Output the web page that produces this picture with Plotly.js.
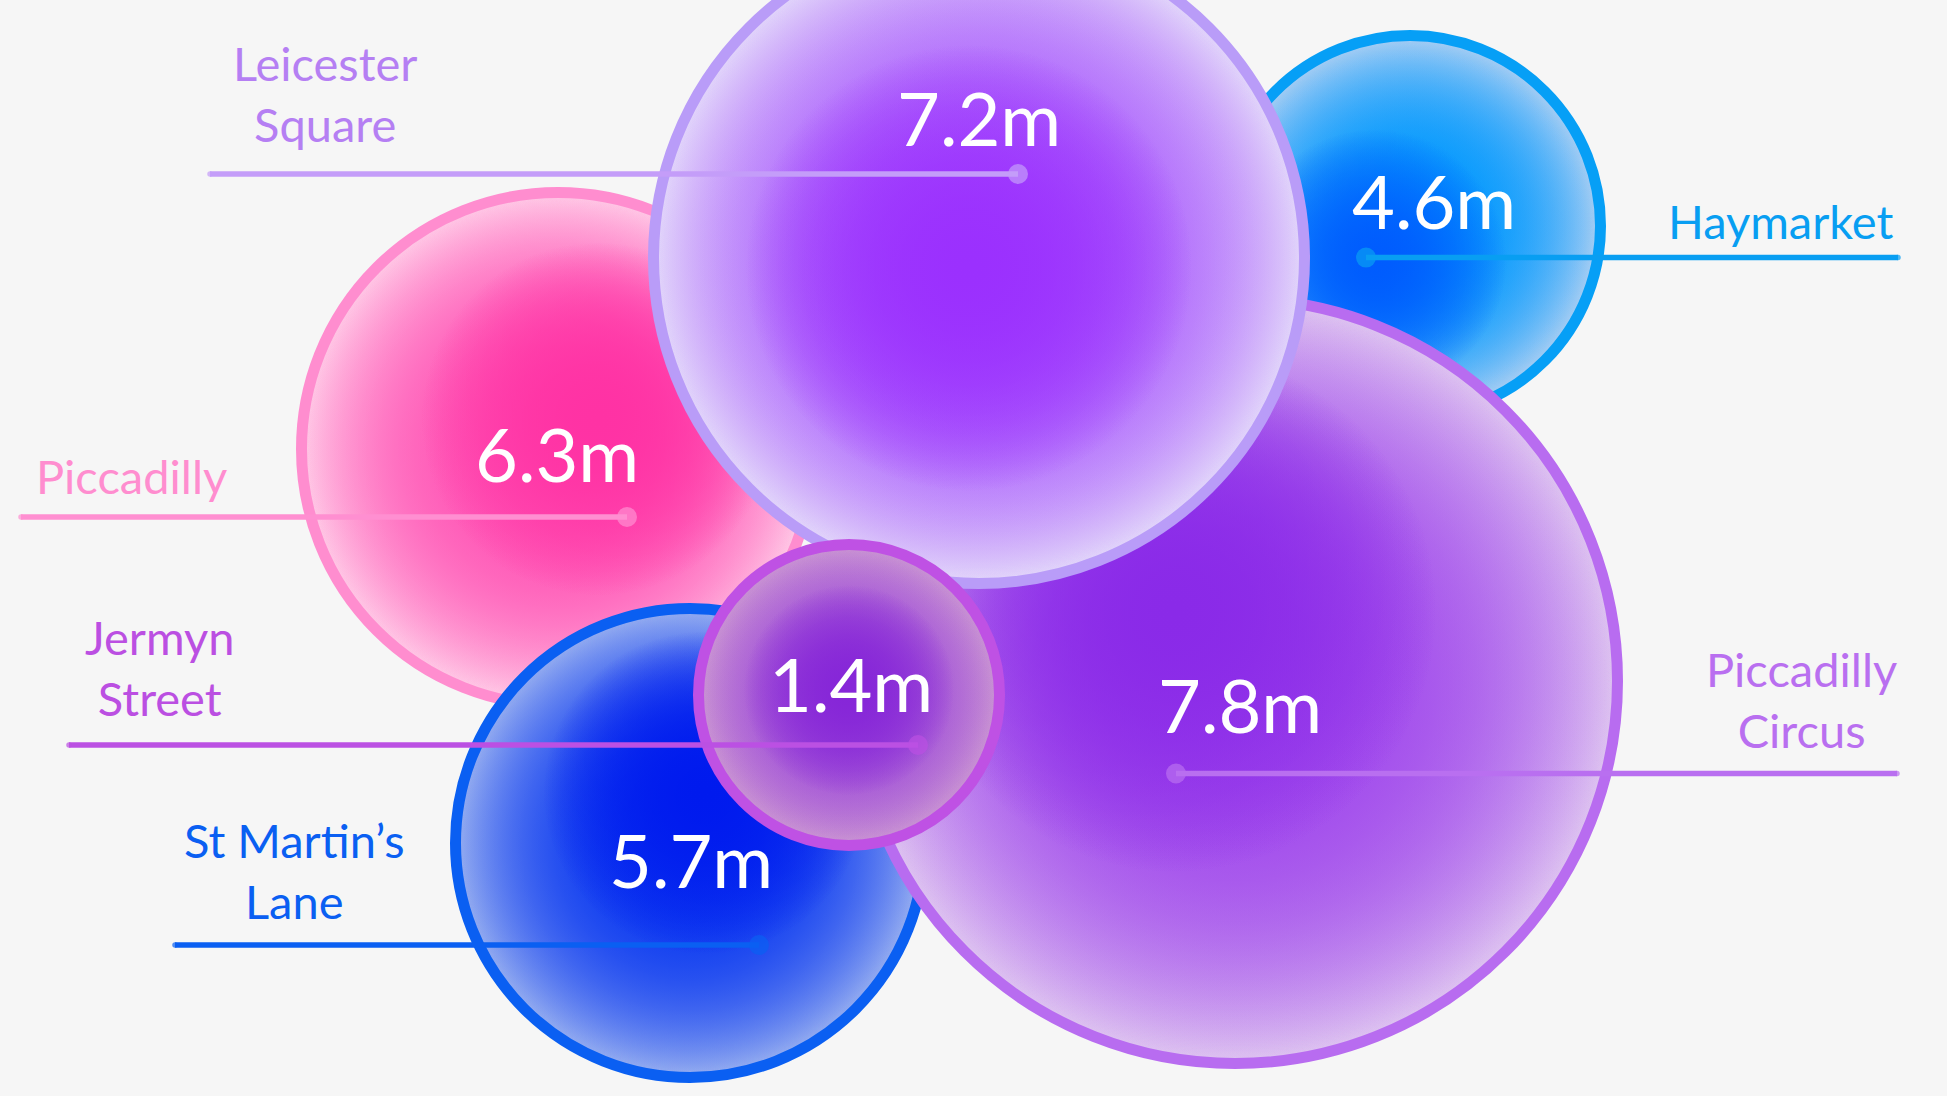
<!DOCTYPE html>
<html>
<head>
<meta charset="utf-8">
<script src="https://cdn.plot.ly/plotly-3.0.1.min.js"></script>
<style>
  html, body { margin: 0; padding: 0; background: #f6f6f6; }
  #chart { width: 1947px; height: 1096px; }
</style>
</head>
<body>
<div id="chart"></div>
<script>
// ---- data (drawing order: back to front) ----
const stations = ['Haymarket', 'Piccadilly', 'St Martin\u2019s Lane', 'Piccadilly Circus', 'Leicester Square', 'Jermyn Street'];
const visitorsMillions = [4.6, 6.3, 5.7, 7.8, 7.2, 1.4];
const nameLabels = ['Haymarket', 'Piccadilly', 'St Martin\u2019s<br>Lane', 'Piccadilly<br>Circus', 'Leicester<br>Square', 'Jermyn<br>Street'];

// ---- packed-bubble layout (axis units = pixels) ----
const bubbleX = [1410, 558, 690, 1235, 979, 849];
const bubbleY = [226, 449, 843, 681, 258, 695];
const bubbleR = [196, 262, 240, 388, 331, 156];
const coreDX = [-35, 40, 15, -60, -10, 0];
const coreDY = [35, -30, -50, -70, 10, -5];
const valueX = [1434, 557, 691, 1240, 979, 851];
const valueY = [200, 453, 859, 704, 117, 683];
const nameX = [1896, 34, 294, 1801, 325, 159];
const nameY = [221, 476, 870, 699, 93, 667];
const nameAnchor = ['right', 'left', 'center', 'center', 'center', 'center'];
const leaderStart = [1898, 21, 175, 1897, 210, 69];
const leaderDot = [1366, 627, 759, 1176, 1018, 918];
const leaderY = [257.6, 517, 945, 773.5, 174, 745];

// ---- styles ----
const rimColor = ['#9fcbf4', '#ffc4e4', '#8fa8f0', '#dcc0f0', '#e0d2fa', '#c790d3'];
const midColor = ['3,153,254', '255,82,180', '12,58,240', '160,72,236', '168,88,253', '160,78,216'];
const coreColor = ['0,92,254', '255,50,164', '0,26,238', '138,42,232', '155,48,254', '134,38,216'];
const borderColor = ['#069ff6', '#ff8dcf', '#0a5ff2', '#b86cf0', '#b99cf8', '#bf51e4'];
const labelColor = ['#089ef2', '#ff8dcf', '#0a5ff2', '#b96ff0', '#b57ff3', '#bb4fe2'];
const lineColor = ['#089ef2', '#ff8fd1', '#0a5ff2', '#b96ff0', '#c49df9', '#bb50e3'];
const BORDER = 11;
const MID_LAYERS = 3;
const CORE_LAYERS = 2;
const FONT = 'Lato, "Open Sans", sans-serif';

function glowTrace(x, y, size, rgb, n) {
  // n stacked radial fades: opaque centre -> transparent edge
  return {
    type: 'scatter', mode: 'markers', hoverinfo: 'skip', showlegend: false,
    x: Array(n).fill(x), y: Array(n).fill(y),
    marker: {
      size: size,
      color: 'rgba(' + rgb + ',0)',
      gradient: { type: 'radial', color: 'rgba(' + rgb + ',1)' },
      line: { width: 0 },
      opacity: 1
    },
    cliponaxis: false
  };
}

const traces = [];
stations.forEach((s, i) => {
  // base bubble: light rim colour and border
  traces.push({
    type: 'scatter', mode: 'markers', hoverinfo: 'skip', showlegend: false,
    x: [bubbleX[i]], y: [bubbleY[i]],
    marker: {
      size: 2 * bubbleR[i] - BORDER,
      color: rimColor[i],
      line: { color: borderColor[i], width: BORDER },
      opacity: 1
    },
    cliponaxis: false
  });
  traces.push(glowTrace(bubbleX[i], bubbleY[i], 2 * bubbleR[i] - 2 * BORDER, midColor[i], MID_LAYERS));
  traces.push(glowTrace(bubbleX[i] + coreDX[i], bubbleY[i] + coreDY[i], 1.35 * bubbleR[i], coreColor[i], CORE_LAYERS));
});

// leader lines with dots
stations.forEach((s, i) => {
  traces.push({
    type: 'scatter', mode: 'lines+markers', hoverinfo: 'skip', showlegend: false,
    x: [leaderStart[i], leaderDot[i]], y: [leaderY[i], leaderY[i]],
    line: { color: lineColor[i], width: 5.5 },
    marker: { size: [5.5, 20], color: lineColor[i], line: { width: 0 } },
    cliponaxis: false
  });
});

const annotations = [];
stations.forEach((s, i) => {
  annotations.push({
    x: valueX[i], y: valueY[i], xref: 'x', yref: 'y',
    text: visitorsMillions[i].toFixed(1) + 'm',
    showarrow: false, xanchor: 'center', yanchor: 'middle',
    font: { family: FONT, size: 74, color: '#ffffff' }
  });
  annotations.push({
    x: nameX[i], y: nameY[i], xref: 'x', yref: 'y',
    text: nameLabels[i],
    showarrow: false, xanchor: nameAnchor[i], yanchor: 'middle', align: 'center',
    font: { family: FONT, size: 47, color: labelColor[i] }
  });
});

const layout = {
  width: 1947, height: 1096,
  margin: { l: 0, r: 0, t: 0, b: 0, pad: 0 },
  paper_bgcolor: '#f6f6f6', plot_bgcolor: '#f6f6f6',
  xaxis: { range: [0, 1947], visible: false, fixedrange: true },
  yaxis: { range: [1096, 0], visible: false, fixedrange: true },
  showlegend: false,
  annotations: annotations
};

Plotly.newPlot('chart', traces, layout, { staticPlot: true, displayModeBar: false });
</script>
</body>
</html>
